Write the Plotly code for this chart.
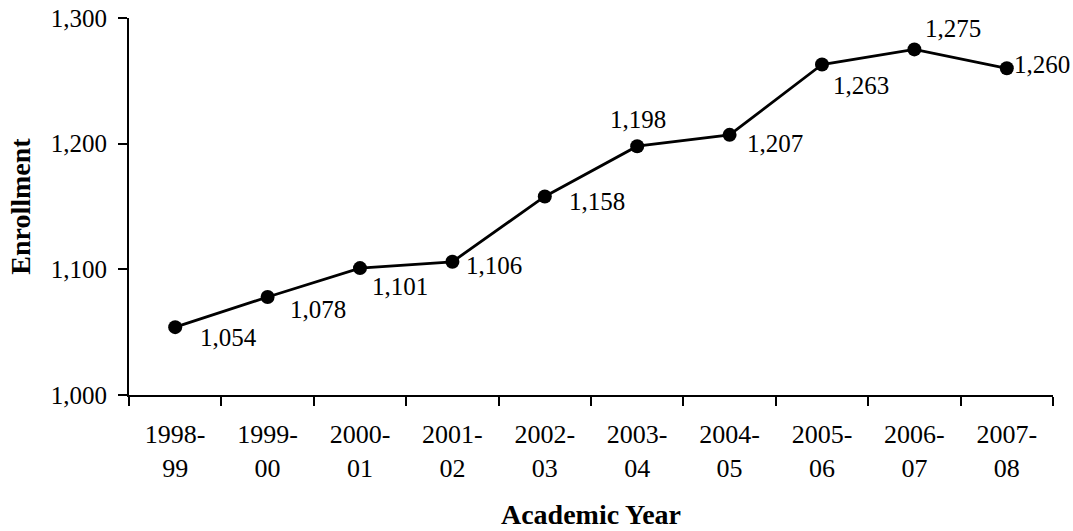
import plotly.graph_objects as go

years = ["1998-99", "1999-00", "2000-01", "2001-02", "2002-03",
         "2003-04", "2004-05", "2005-06", "2006-07", "2007-08"]
tick_text = ["1998-<br>99", "1999-<br>00", "2000-<br>01", "2001-<br>02", "2002-<br>03",
             "2003-<br>04", "2004-<br>05", "2005-<br>06", "2006-<br>07", "2007-<br>08"]
enrollment = [1054, 1078, 1101, 1106, 1158, 1198, 1207, 1263, 1275, 1260]
y_ticks = [1000, 1100, 1200, 1300]

# label placement (xanchor, xshift px, yshift px downward)
label_pos = [("left", 23, 10), ("left", 20, 13), ("left", 10, 18), ("left", 12, 4),
             ("left", 22, 5), ("center", 1, -27), ("left", 15, 9), ("left", 9, 21),
             ("left", 9, -21), ("left", 5, -4)]

FONT = "Liberation Serif"

fig = go.Figure()
fig.add_trace(go.Scatter(
    x=years, y=enrollment, mode="lines+markers",
    line=dict(color="black", width=2.8),
    marker=dict(color="black", size=14),
    showlegend=False, hoverinfo="x+y",
))

for yr, v, (anc, dx, dy) in zip(years, enrollment, label_pos):
    fig.add_annotation(x=yr, y=v, xref="x", yref="y", text=f"{v:,}",
                       showarrow=False, xanchor=anc, yanchor="middle",
                       xshift=dx, yshift=-dy,
                       font=dict(family=FONT, size=25, color="black"))

fig.update_layout(
    width=1073, height=531,
    margin=dict(l=129, r=20, t=18, b=136),
    paper_bgcolor="white", plot_bgcolor="white",
    font=dict(family=FONT, size=25, color="black"),
    xaxis=dict(
        type="category", categoryorder="array", categoryarray=years,
        range=[-0.5, 9.5], tickmode="array", tickvals=years, ticktext=tick_text,
        tickson="boundaries", ticks="outside", ticklen=9, tickwidth=2, tickcolor="black",
        showline=True, linecolor="black", linewidth=2, showgrid=False, zeroline=False,
        tickfont=dict(family=FONT, size=26, color="black"), ticklabelstandoff=15,
        title=dict(text="<b>Academic Year</b>", font=dict(family=FONT, size=28, color="black"),
                   standoff=22),
        automargin=False,
    ),
    yaxis=dict(
        range=[1000, 1300], tickmode="array", tickvals=y_ticks,
        ticktext=[f"{t:,}" for t in y_ticks],
        ticks="outside", ticklen=9, tickwidth=2, tickcolor="black",
        showline=True, linecolor="black", linewidth=2, showgrid=False, zeroline=False,
        tickfont=dict(family=FONT, size=25, color="black"), ticklabelstandoff=6,
        title=dict(text="<b>Enrollment</b>", font=dict(family=FONT, size=28, color="black"),
                   standoff=12),
        automargin=False,
    ),
)

fig.write_html("out.html", config={"displayModeBar": False},
               post_script="document.body.style.margin='0';")
